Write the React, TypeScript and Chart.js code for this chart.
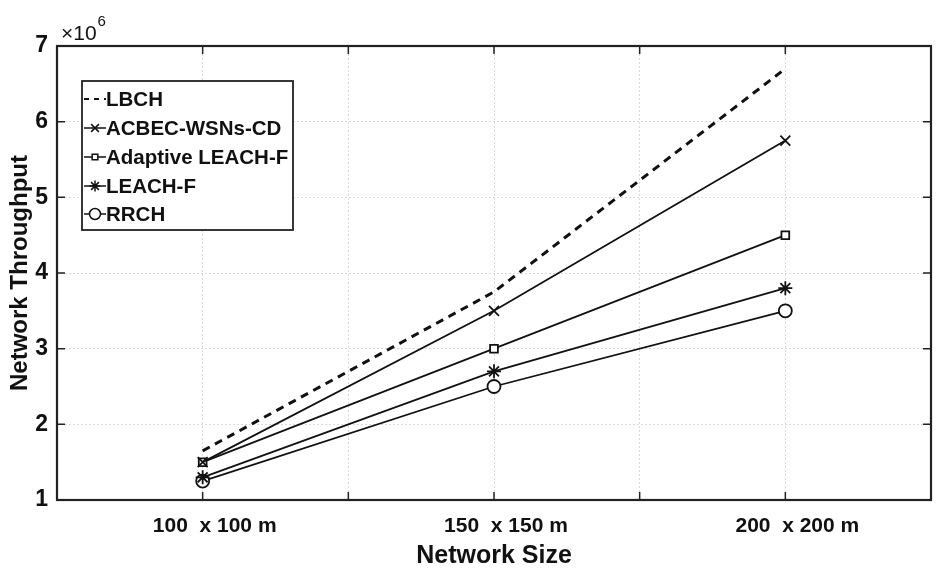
import React, { useEffect, useRef } from "react";
import { Chart, registerables } from "chart.js";
import { drawPoint } from "chart.js/helpers";

Chart.register(...registerables);

const categories = [100, 150, 200];
const categoryLabels: Record<number, string> = { 100: "100  x 100 m", 150: "150  x 150 m", 200: "200  x 200 m" };
const lbch = [1.65, 3.75, 6.7];
const acbec = [1.5, 3.5, 5.75];
const adaptiveLeachF = [1.5, 3.0, 4.5];
const leachF = [1.3, 2.7, 3.8];
const rrch = [1.25, 2.5, 3.5];
const seriesNames = ["LBCH", "ACBEC-WSNs-CD", "Adaptive LEACH-F", "LEACH-F", "RRCH"];

const FONT = "'Liberation Sans', Arial, sans-serif";

const toPts = (vals: number[]) => vals.map((v, i) => ({ x: categories[i], y: v }));

export default function App() {
  const ref = useRef<HTMLCanvasElement | null>(null);
  useEffect(() => {
    if (!ref.current) return;
    const styles = [
      { dash: [8, 6], width: 3, point: false as any, r: 0 },
      { dash: [], width: 1.8, point: "crossRot", r: 7 },
      { dash: [], width: 1.8, point: "rect", r: 5.5 },
      { dash: [], width: 1.8, point: "star", r: 7 },
      { dash: [], width: 1.8, point: "circle", r: 6.5 },
    ];
    const all = [lbch, acbec, adaptiveLeachF, leachF, rrch];
    const datasets = all.map((vals, i) => ({
      label: seriesNames[i],
      data: toPts(vals),
      borderColor: "#111",
      backgroundColor: "#fff",
      borderWidth: styles[i].width,
      borderDash: styles[i].dash,
      pointStyle: styles[i].point,
      pointRadius: styles[i].r,
      pointBorderWidth: 1.8,
      pointBorderColor: "#111",
      pointBackgroundColor: "#fff",
      showLine: true,
      fill: false,
    }));

    const boxPlugin = {
      id: "boxPlugin",
      afterDatasetsDraw(chart: any) {
        const { ctx, chartArea: a, scales } = chart;
        ctx.save();
        ctx.strokeStyle = "#222";
        ctx.lineWidth = 1.5;
        ctx.setLineDash([]);
        const tl = 8;
        for (let v = 75; v <= 225; v += 25) {
          const x = scales.x.getPixelForValue(v);
          ctx.beginPath();
          ctx.moveTo(x, a.bottom);
          ctx.lineTo(x, a.bottom - tl);
          ctx.moveTo(x, a.top);
          ctx.lineTo(x, a.top + tl);
          ctx.stroke();
        }
        for (let v = 1; v <= 7; v += 1) {
          const y = scales.y.getPixelForValue(v);
          ctx.beginPath();
          ctx.moveTo(a.left, y);
          ctx.lineTo(a.left + tl, y);
          ctx.moveTo(a.right, y);
          ctx.lineTo(a.right - tl, y);
          ctx.stroke();
        }
        ctx.lineWidth = 2.2;
        ctx.strokeRect(a.left, a.top, a.right - a.left, a.bottom - a.top);

        // exponent label
        ctx.fillStyle = "#111";
        ctx.textBaseline = "alphabetic";
        ctx.textAlign = "left";
        ctx.font = `21px ${FONT}`;
        ctx.fillText("×10", a.left + 4, a.top - 6);
        const w = ctx.measureText("×10").width;
        ctx.font = `15px ${FONT}`;
        ctx.fillText("6", a.left + 5 + w, a.top - 20);

        // legend
        const lx = 82, ly = 81, lw = 211, lh = 149;
        ctx.fillStyle = "#fff";
        ctx.fillRect(lx, ly, lw, lh);
        ctx.strokeStyle = "#222";
        ctx.lineWidth = 1.8;
        ctx.strokeRect(lx, ly, lw, lh);
        const rows = [99, 128, 157, 186, 214];
        seriesNames.forEach((name, i) => {
          const y = rows[i];
          ctx.strokeStyle = "#111";
          ctx.lineWidth = i === 0 ? 2.2 : 1.5;
          ctx.setLineDash(i === 0 ? [5, 5] : []);
          ctx.beginPath();
          ctx.moveTo(lx + 2, y);
          ctx.lineTo(lx + 24, y);
          ctx.stroke();
          ctx.setLineDash([]);
          if (styles[i].point) {
            ctx.fillStyle = "#fff";
            ctx.lineWidth = 1.5;
            drawPoint(ctx, { pointStyle: styles[i].point, radius: i === 2 ? 4 : 5.5, borderWidth: 1.5, rotation: 0 } as any, lx + 13, y);
          }
          ctx.fillStyle = "#111";
          ctx.font = `bold 20.5px ${FONT}`;
          ctx.textBaseline = "middle";
          ctx.textAlign = "left";
          ctx.fillText(name, lx + 24, y + 1);
        });
        ctx.restore();
      },
    };

    const chart = new Chart(ref.current, {
      type: "scatter",
      data: { datasets },
      options: {
        animation: false,
        responsive: false,
        maintainAspectRatio: false,
        layout: { padding: { left: 0, right: 15, top: 46, bottom: 0 } },
        plugins: { legend: { display: false }, tooltip: { enabled: false } },
        scales: {
          x: {
            type: "linear",
            min: 75,
            max: 225,
            afterFit(s: any) { s.height = 75; },
            afterBuildTicks(s: any) {
              s.ticks = [75, 100, 125, 150, 175, 200, 225].map((v) => ({ value: v }));
            },
            ticks: {
              autoSkip: false,
              maxRotation: 0,
              padding: 14,
              labelOffset: 12,
              color: "#111",
              font: { family: FONT, size: 21, weight: "bold" },
              callback: (v: any) => categoryLabels[v as number] ?? "",
            },
            grid: { color: "rgba(0,0,0,0.15)", lineWidth: 1, drawTicks: false },
            border: { display: false, dash: [2, 2] },
            title: {
              display: true,
              text: "Network Size",
              color: "#111",
              font: { family: FONT, size: 25, weight: "bold" },
              padding: { top: 0, bottom: 4 },
            },
          },
          y: {
            type: "linear",
            min: 1,
            max: 7,
            afterFit(s: any) { s.width = 57; },
            ticks: {
              stepSize: 1,
              padding: 9,
              color: "#111",
              font: { family: FONT, size: 23, weight: "bold" },
            },
            grid: { color: "rgba(0,0,0,0.15)", lineWidth: 1, drawTicks: false },
            border: { display: false, dash: [2, 2] },
            title: {
              display: true,
              text: "Network Throughput",
              color: "#111",
              font: { family: FONT, size: 24, weight: "bold" },
              padding: { top: 6, bottom: 2 },
            },
          },
        },
      },
      plugins: [boxPlugin],
    } as any);
    return () => chart.destroy();
  }, []);
  return (
    <div style={{ position: "absolute", left: 0, top: 0, width: 946, height: 575, background: "#fff" }}>
      <canvas ref={ref} width={946} height={575} style={{ width: 946, height: 575 }} />
    </div>
  );
}
